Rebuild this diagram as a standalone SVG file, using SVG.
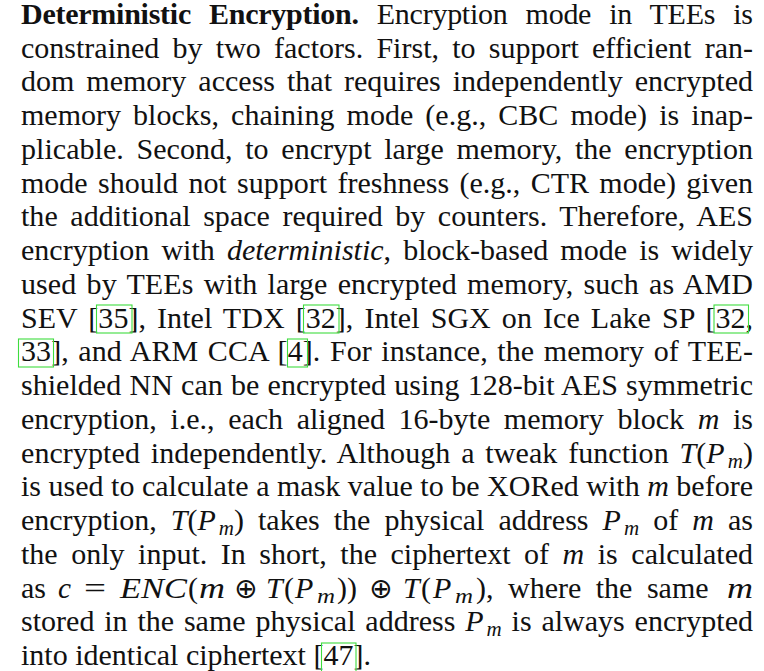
<svg xmlns="http://www.w3.org/2000/svg" width="764" height="671" viewBox="0 0 764 671">
<style>
text{font-family:"Liberation Serif","Times New Roman",serif;font-size:30px;fill:#111}
.b{font-weight:bold}
.i{font-style:italic}
.s{font-size:21px;font-style:italic}
.o{font-family:"DejaVu Sans",sans-serif;font-size:28px}
.cite{fill:none;stroke:#3fdc3f;stroke-width:1.1}
</style>
<rect width="764" height="671" fill="#fff"/>
<g id="paragraph">
<text x="21" y="23.7" word-spacing="10.8" textLength="732" lengthAdjust="spacing"><tspan class="b">Deterministic Encryption.</tspan> Encryption mode in TEEs is</text>
<text x="21" y="57.5" word-spacing="5.7" textLength="732" lengthAdjust="spacing">constrained by two factors. First, to support efficient ran-</text>
<text x="21" y="91.2" word-spacing="4.5" textLength="732" lengthAdjust="spacing">dom memory access that requires independently encrypted</text>
<text x="21" y="125" word-spacing="4.6" textLength="732" lengthAdjust="spacing">memory blocks, chaining mode (e.g., CBC mode) is inap-</text>
<text x="21" y="158.7" word-spacing="5.1" textLength="732" lengthAdjust="spacing">plicable. Second, to encrypt large memory, the encryption</text>
<text x="21" y="192.5" word-spacing="2.9" textLength="732" lengthAdjust="spacing">mode should not support freshness (e.g., CTR mode) given</text>
<text x="21" y="226.3" word-spacing="5" textLength="732" lengthAdjust="spacing">the additional space required by counters. Therefore, AES</text>
<text x="21" y="260" word-spacing="4.65" textLength="732" lengthAdjust="spacing">encryption with <tspan class="i">deterministic</tspan>, block-based mode is widely</text>
<text x="21" y="293.8" word-spacing="2.6" textLength="732" lengthAdjust="spacing">used by TEEs with large encrypted memory, such as AMD</text>
<text x="21" y="327.5" word-spacing="3.5" textLength="732" lengthAdjust="spacing">SEV [35], Intel TDX [32], Intel SGX on Ice Lake SP [32,</text>
<text x="21" y="361.3" word-spacing="1.96" textLength="732" lengthAdjust="spacing">33], and ARM CCA [4]. For instance, the memory of TEE-</text>
<text x="21" y="395.1" word-spacing="0.7" textLength="732" lengthAdjust="spacing">shielded NN can be encrypted using 128-bit AES symmetric</text>
<text x="21" y="428.8" word-spacing="6.1" textLength="732" lengthAdjust="spacing">encryption, i.e., each aligned 16-byte memory block <tspan class="i">m</tspan> is</text>
<text x="21" y="462.6" word-spacing="3.2" textLength="732" lengthAdjust="spacing">encrypted independently. Although a tweak function <tspan class="i">T</tspan>(<tspan class="i">P</tspan><tspan class="s" dx="3" dy="5">m</tspan><tspan dy="-5">)</tspan></text>
<text x="21" y="496.3" textLength="732" lengthAdjust="spacing">is used to calculate a mask value to be XORed with <tspan class="i">m</tspan> before</text>
<text x="21" y="530.1" word-spacing="6.6" textLength="732" lengthAdjust="spacing">encryption, <tspan class="i">T</tspan>(<tspan class="i">P</tspan><tspan class="s" dx="3" dy="5">m</tspan><tspan dy="-5">) takes the physical address </tspan><tspan class="i">P</tspan><tspan class="s" dx="3" dy="5">m</tspan><tspan dy="-5"> of </tspan><tspan class="i">m</tspan> as</text>
<text x="21" y="563.9" word-spacing="6" textLength="732" lengthAdjust="spacing">the only input. In short, the ciphertext of <tspan class="i">m</tspan> is calculated</text>
<g id="line18">
<text x="21" y="597.6">as</text>
<text x="58" y="597.6" class="i" textLength="13" lengthAdjust="spacingAndGlyphs">c</text>
<text x="84" y="597.6" textLength="22" lengthAdjust="spacingAndGlyphs">=</text>
<text x="120" y="597.6" class="i" textLength="67" lengthAdjust="spacingAndGlyphs">ENC</text>
<text x="188" y="597.6">(</text>
<text x="199" y="597.6" class="i" textLength="26" lengthAdjust="spacingAndGlyphs">m</text>
<text x="234" y="597.6" class="o">⊕</text>
<text x="266" y="597.6" class="i">T</text>
<text x="284" y="597.6">(</text>
<text x="295" y="597.6" class="i">P</text>
<text x="317" y="602.6" class="s" textLength="18" lengthAdjust="spacingAndGlyphs">m</text>
<text x="337" y="597.6">))</text>
<text x="369" y="597.6" class="o">⊕</text>
<text x="403" y="597.6" class="i">T</text>
<text x="421" y="597.6">(</text>
<text x="433" y="597.6" class="i">P</text>
<text x="455" y="602.6" class="s" textLength="18" lengthAdjust="spacingAndGlyphs">m</text>
<text x="476" y="597.6" word-spacing="7">), where the same</text>
<text x="727" y="597.6" class="i" textLength="26" lengthAdjust="spacingAndGlyphs">m</text>
</g>
<text x="21" y="631.4" word-spacing="2.3" textLength="732" lengthAdjust="spacing">stored in the same physical address <tspan class="i">P</tspan><tspan class="s" dx="3" dy="5">m</tspan><tspan dy="-5"> is always encrypted</tspan></text>
<text x="21" y="665.1">into identical ciphertext [47].</text>
</g>
<g id="citations">
<rect class="cite" x="96.5" y="305" width="35.5" height="28"/>
<rect class="cite" x="303.5" y="305" width="35.5" height="28"/>
<rect class="cite" x="714" y="305" width="34.5" height="28"/>
<rect class="cite" x="18.5" y="339" width="35" height="28"/>
<rect class="cite" x="287.5" y="339" width="20" height="28"/>
<rect class="cite" x="321.5" y="643" width="34.5" height="30"/>
</g>
</svg>
